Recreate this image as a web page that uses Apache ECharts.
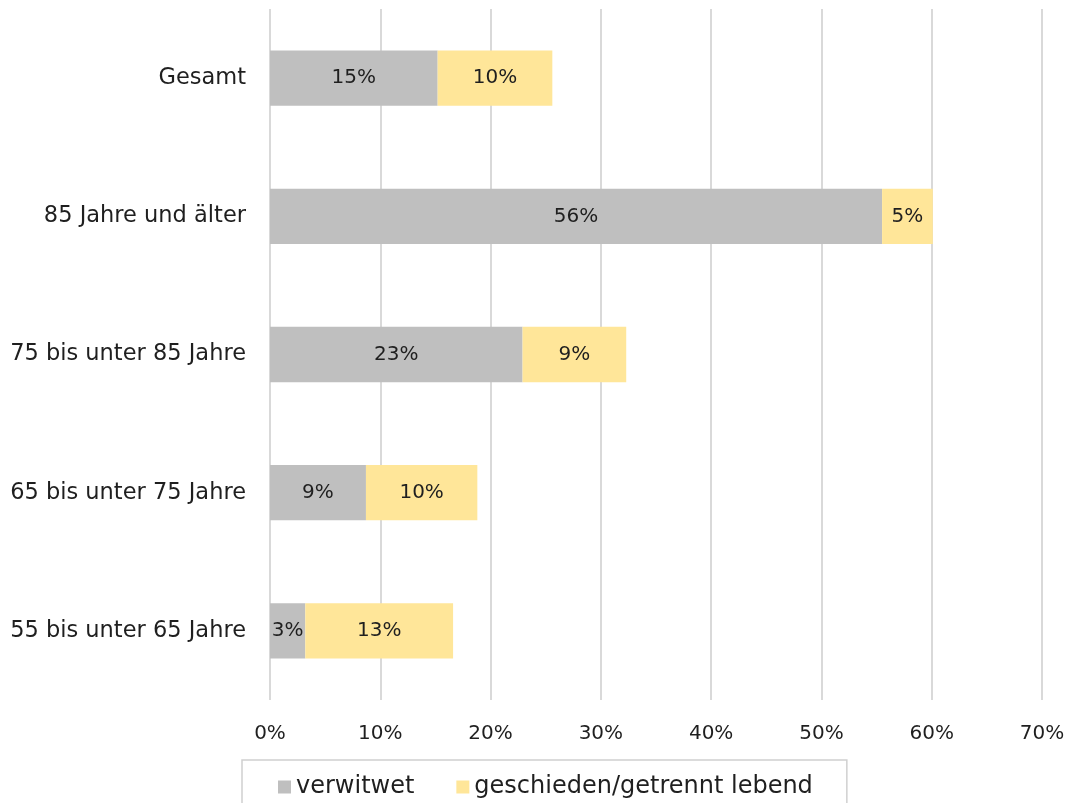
<!DOCTYPE html>
<html>
<head>
<meta charset="utf-8">
<script src="https://cdn.jsdelivr.net/npm/echarts@6/dist/echarts.min.js"></script>
<style>
  html, body { margin: 0; padding: 0; background: #fff; }
  #chart { width: 1070px; height: 803px; }
</style>
</head>
<body>
<div id="chart"></div>
<script>
// Age groups, top to bottom
const categories = ['Gesamt', '85 Jahre und älter', '75 bis unter 85 Jahre', '65 bis unter 75 Jahre', '55 bis unter 65 Jahre'];
// Share in percent
const verwitwet = [15.2, 55.5, 22.9, 8.7, 3.2];
const geschieden = [10.4, 4.6, 9.4, 10.1, 13.4];
const seriesNames = ['verwitwet', 'geschieden/getrennt lebend'];
const xTicks = { min: 0, max: 70, interval: 10 };

const FONT = '"DejaVu Sans", sans-serif';
const TEXT = '#1f1f1f';

const chart = echarts.init(document.getElementById('chart'), null, { renderer: 'canvas' });

const barLabel = {
  show: true,
  position: 'inside',
  color: TEXT,
  fontFamily: FONT,
  fontSize: 20,
  formatter: p => Math.round(p.value) + '%'
};

chart.setOption({
  animation: false,
  backgroundColor: '#ffffff',
  grid: { left: 270, right: 28, top: 9, bottom: 103, containLabel: false },
  legend: {
    bottom: -17,
    left: 242,
    data: seriesNames,
    icon: 'rect',
    itemWidth: 13,
    itemHeight: 13,
    itemGap: 42,
    itemTextGap: 5,
    padding: [15, 34, 21, 36],
    borderColor: '#d0d0d0',
    borderWidth: 1.5,
    textStyle: { color: TEXT, fontFamily: FONT, fontSize: 24 }
  },
  xAxis: {
    type: 'value',
    min: xTicks.min,
    max: xTicks.max,
    interval: xTicks.interval,
    axisLine: { show: false },
    axisTick: { show: false },
    splitLine: { show: true, lineStyle: { color: '#d9d9d9', width: 2 } },
    axisLabel: { color: TEXT, fontFamily: FONT, fontSize: 20, margin: 24, formatter: v => v + '%' }
  },
  yAxis: {
    type: 'category',
    inverse: true,
    data: categories,
    axisLine: { show: false },
    axisTick: { show: false },
    axisLabel: { color: TEXT, fontFamily: FONT, fontSize: 22.5, margin: 24 }
  },
  series: [
    {
      name: seriesNames[0],
      type: 'bar',
      stack: 'total',
      barWidth: '40%',
      data: verwitwet,
      itemStyle: { color: '#bfbfbf' },
      label: barLabel
    },
    {
      name: seriesNames[1],
      type: 'bar',
      stack: 'total',
      barWidth: '40%',
      data: geschieden,
      itemStyle: { color: '#ffe699' },
      label: barLabel
    }
  ]
});
</script>
</body>
</html>
